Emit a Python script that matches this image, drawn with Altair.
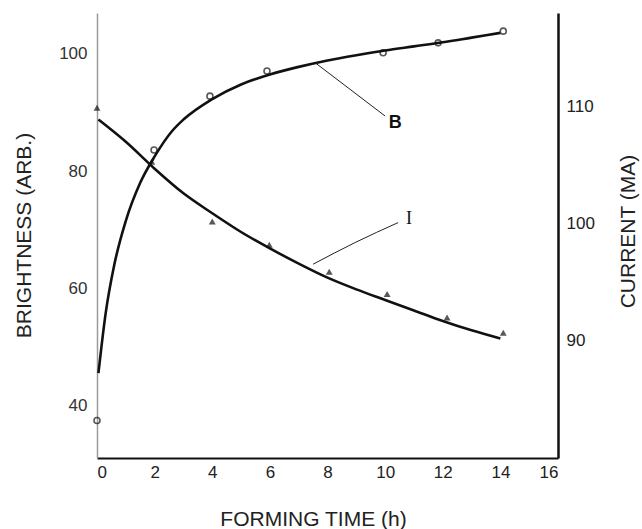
import altair as alt
import pandas as pd

# ---- data ----
# Brightness (B) measured points (open circles)
b_pt_time = [0, 1.98, 3.92, 5.9, 9.93, 11.84, 14.1]
b_pt_val = [37.4, 83.6, 92.8, 97.1, 100.2, 101.9, 103.9]
# Brightness fitted curve
b_cv_time = [0.05, 0.3, 0.6, 1.0, 1.5, 2.0, 2.6, 3.0, 4.0, 5.0, 6.0, 7.0, 8.0, 9.0, 10.0, 11.0, 12.0, 13.0, 14.0]
b_cv_val = [45.5, 55.7, 64.0, 71.5, 78.0, 82.5, 86.8, 88.8, 92.3, 94.8, 96.5, 97.8, 98.9, 99.8, 100.6, 101.3, 102.0, 102.8, 103.6]

# Current (I) measured points (filled triangles)
i_pt_time = [0, 1.9, 4.0, 5.98, 8.06, 10.07, 12.15, 14.1]
i_pt_val = [109.9, 105.3, 100.2, 98.2, 95.9, 94.0, 92.0, 90.7]
# Current fitted curve
i_cv_time = [0.05, 1, 2, 3, 4, 5, 6, 7, 8, 9, 10, 11, 12, 13, 14]
i_cv_val = [108.9, 107.0, 104.7, 102.6, 100.9, 99.3, 97.9, 96.6, 95.4, 94.4, 93.5, 92.6, 91.7, 90.9, 90.2]

# Annotation leaders and labels
b_lead_time = [7.6, 10.0]
b_lead_val = [98.4, 89.4]
b_label = ["B"]
b_label_time = [10.35]
b_label_val = [88.2]

i_lead_time = [7.5, 8.96, 10.45]
i_lead_val = [96.55, 98.4, 100.1]
i_label = ["I"]
i_label_time = [10.83]
i_label_val = [100.4]

x_ticks = [0, 2, 4, 6, 8, 10, 12, 14, 16]
b_ticks = [40, 60, 80, 100]
i_ticks = [90, 100, 110]

FONT = "Liberation Sans"

X = alt.X(
    "t:Q",
    scale=alt.Scale(domain=[0, 16], nice=False, zero=False),
    axis=alt.Axis(
        values=x_ticks, title="FORMING TIME (h)", grid=False, ticks=False,
        domainColor="#111111", domainWidth=2, labelFont=FONT, labelFontSize=17,
        labelColor="#222222", labelPadding=6, titleFont=FONT, titleFontSize=21,
        titleFontWeight="normal", titleColor="#222222", titleX=216, titleY=67,
        titleAlign="center", titleBaseline="alphabetic",
    ),
)

YB = alt.Y(
    "b:Q",
    scale=alt.Scale(domain=[31, 107], nice=False, zero=False),
    axis=alt.Axis(
        values=b_ticks, title="BRIGHTNESS (ARB.)", grid=False, ticks=False,
        domainColor="#9a9a9a", domainWidth=1.5, labelFont=FONT, labelFontSize=17,
        labelColor="#333333", labelPadding=10, titleFont=FONT, titleFontSize=21,
        titleFontWeight="normal", titleColor="#222222", titleAngle=270,
        titleX=-73, titleY=222, titleAlign="center", titleBaseline="middle",
    ),
)

YI = alt.Y(
    "i:Q",
    scale=alt.Scale(domain=[80, 118], nice=False, zero=False),
    axis=alt.Axis(
        orient="right", values=i_ticks, title="CURRENT (MA)", grid=False, ticks=False,
        domainColor="#111111", domainWidth=2.5, labelFont=FONT, labelFontSize=17,
        labelColor="#222222", labelPadding=8, titleFont=FONT, titleFontSize=21,
        titleFontWeight="normal", titleColor="#222222", titleAngle=270,
        titleX=70, titleY=218, titleAlign="center", titleBaseline="middle",
    ),
)

b_pts = pd.DataFrame({"t": b_pt_time, "b": b_pt_val})
b_cv = pd.DataFrame({"t": b_cv_time, "b": b_cv_val})
b_ld = pd.DataFrame({"t": b_lead_time, "b": b_lead_val})
b_lb = pd.DataFrame({"t": b_label_time, "b": b_label_val, "txt": b_label})

i_pts = pd.DataFrame({"t": i_pt_time, "i": i_pt_val})
i_cv = pd.DataFrame({"t": i_cv_time, "i": i_cv_val})
i_ld = pd.DataFrame({"t": i_lead_time, "i": i_lead_val})
i_lb = pd.DataFrame({"t": i_label_time, "i": i_label_val, "txt": i_label})

b_line = alt.Chart(b_cv).mark_line(color="#111111", strokeWidth=2.6, interpolate="monotone").encode(x=X, y=YB)
b_mark = alt.Chart(b_pts).mark_point(shape="circle", filled=False, size=36, color="#111111", strokeWidth=1.6).encode(x=X, y=YB)
b_lead = alt.Chart(b_ld).mark_line(color="#222222", strokeWidth=1).encode(x=X, y=YB)
b_text = alt.Chart(b_lb).mark_text(font=FONT, fontSize=18, fontWeight="bold", color="#111111",
                                   align="center", baseline="middle").encode(x=X, y=YB, text="txt:N")

i_line = alt.Chart(i_cv).mark_line(color="#111111", strokeWidth=2.6, interpolate="monotone").encode(x=X, y=YI)
i_mark = alt.Chart(i_pts).mark_point(shape="triangle-up", filled=True, size=48, color="#111111").encode(x=X, y=YI)
i_lead = alt.Chart(i_ld).mark_line(color="#222222", strokeWidth=1, interpolate="monotone").encode(x=X, y=YI)
i_text = alt.Chart(i_lb).mark_text(font="Liberation Serif", fontSize=18, color="#111111",
                                   align="center", baseline="middle").encode(x=X, y=YI, text="txt:N")

left = alt.layer(b_line, b_mark, b_lead, b_text)
right = alt.layer(i_line, i_mark, i_lead, i_text)

chart = (
    alt.layer(left, right)
    .resolve_scale(y="independent")
    .properties(
        width=461,
        height=445,
        autosize=alt.AutoSizeParams(type="none"),
        padding={"left": 97, "top": 13, "right": 84, "bottom": 71},
        background="white",
    )
    .configure_view(strokeWidth=0)
)

chart.save("out.html", embed_options={"renderer": "svg", "actions": False})
